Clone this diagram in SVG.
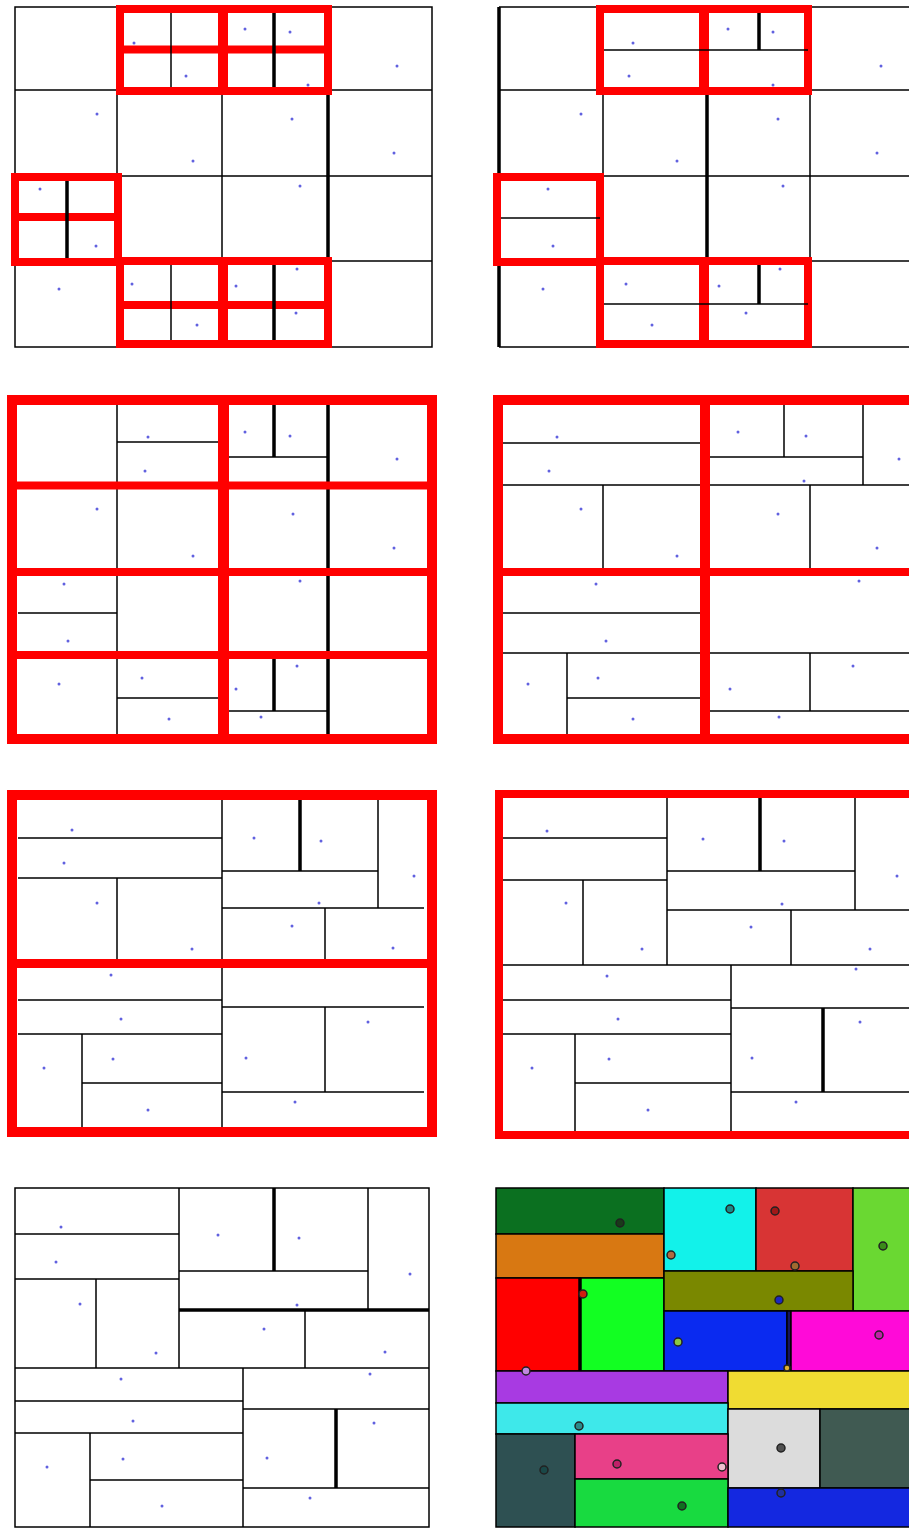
<svg xmlns="http://www.w3.org/2000/svg" width="909" height="1528" viewBox="0 0 909 1528">
<style>
.b{stroke:#000;stroke-width:1.5;fill:none}
.t{stroke:#000;stroke-width:3.5;fill:none}
.r{stroke:#f00;fill:none}
.d{fill:#3a3ad8;opacity:0.8}
.c rect{stroke:#000;stroke-width:1.5}
.m{stroke:#222;stroke-width:1.5}
</style>
<rect width="909" height="1528" fill="#fff"/>

<!-- Panel 1 -->
<g id="panel1">
<rect class="b" x="15" y="7" width="417" height="340"/>
<path class="b" d="M117 7V347M222 90V261M15 90H432M15 176H432M15 261H432"/>
<path class="t" d="M328 90V261"/>
<rect class="r" stroke-width="8" x="120" y="9" width="208" height="82"/>
<path class="r" stroke-width="10" d="M223 5V95"/>
<path class="r" stroke-width="8" d="M116 49.5H332"/>
<path class="b" d="M171 13V87"/>
<path class="t" d="M274 13V87"/>
<rect class="r" stroke-width="8" x="15" y="177" width="103" height="85"/>
<path class="r" stroke-width="8" d="M11 217H122"/>
<path class="t" d="M67 181V258"/>
<rect class="r" stroke-width="8" x="120" y="261" width="208" height="83"/>
<path class="r" stroke-width="10" d="M223 257V348"/>
<path class="r" stroke-width="8" d="M116 305H332"/>
<path class="b" d="M171 265V340"/>
<path class="t" d="M274 265V340"/>
<g class="d">
<circle cx="134" cy="43" r="1.5"/><circle cx="245" cy="29" r="1.5"/><circle cx="290" cy="32" r="1.5"/><circle cx="186" cy="76" r="1.5"/><circle cx="308" cy="85" r="1.5"/><circle cx="397" cy="66" r="1.5"/><circle cx="97" cy="114" r="1.5"/><circle cx="292" cy="119" r="1.5"/><circle cx="193" cy="161" r="1.5"/><circle cx="394" cy="153" r="1.5"/><circle cx="40" cy="189" r="1.5"/><circle cx="300" cy="186" r="1.5"/><circle cx="96" cy="246" r="1.5"/><circle cx="59" cy="289" r="1.5"/><circle cx="132" cy="284" r="1.5"/><circle cx="236" cy="286" r="1.5"/><circle cx="297" cy="269" r="1.5"/><circle cx="197" cy="325" r="1.5"/><circle cx="296" cy="313" r="1.5"/>
</g>
</g>

<!-- Panel 2 -->
<g id="panel2">
<path class="b" d="M499 7H909M499 347H909M499 90H909M499 176H909M499 261H909M603 90V261M810 90V261"/>
<path class="t" d="M499 7V347M707 90V261"/>
<rect class="r" stroke-width="8" x="600" y="9" width="208" height="82"/>
<path class="r" stroke-width="10" d="M704 5V95"/>
<path class="b" d="M604 50H808"/>
<path class="t" d="M759 13V50"/>
<rect class="r" stroke-width="8" x="497" y="177" width="103" height="85"/>
<path class="b" d="M501 218H600"/>
<rect class="r" stroke-width="8" x="600" y="261" width="208" height="83"/>
<path class="r" stroke-width="10" d="M704 257V348"/>
<path class="b" d="M604 304H808"/>
<path class="t" d="M759 265V304"/>
<g class="d">
<circle cx="633" cy="43" r="1.5"/><circle cx="728" cy="29" r="1.5"/><circle cx="773" cy="32" r="1.5"/><circle cx="629" cy="76" r="1.5"/><circle cx="773" cy="85" r="1.5"/><circle cx="881" cy="66" r="1.5"/><circle cx="581" cy="114" r="1.5"/><circle cx="778" cy="119" r="1.5"/><circle cx="677" cy="161" r="1.5"/><circle cx="877" cy="153" r="1.5"/><circle cx="548" cy="189" r="1.5"/><circle cx="783" cy="186" r="1.5"/><circle cx="553" cy="246" r="1.5"/><circle cx="543" cy="289" r="1.5"/><circle cx="626" cy="284" r="1.5"/><circle cx="719" cy="286" r="1.5"/><circle cx="780" cy="269" r="1.5"/><circle cx="652" cy="325" r="1.5"/><circle cx="746" cy="313" r="1.5"/>
</g>
</g>

<!-- Panel 3 -->
<g id="panel3">
<path class="b" d="M117 404V738M117 442H219M229 457H328M18 613H117M117 698H219M229 711H328"/>
<path class="t" d="M328 404V738M274 404V457M274 659V711"/>
<rect class="r" stroke-width="10" x="12" y="400" width="420" height="339"/>
<path class="r" stroke-width="11" d="M223.5 400V739"/>
<path class="r" stroke-width="8" d="M12 485.5H432M12 572H432M12 655H432"/>
<g class="d">
<circle cx="148" cy="437" r="1.5"/><circle cx="145" cy="471" r="1.5"/><circle cx="245" cy="432" r="1.5"/><circle cx="290" cy="436" r="1.5"/><circle cx="397" cy="459" r="1.5"/><circle cx="97" cy="509" r="1.5"/><circle cx="293" cy="514" r="1.5"/><circle cx="193" cy="556" r="1.5"/><circle cx="394" cy="548" r="1.5"/><circle cx="64" cy="584" r="1.5"/><circle cx="300" cy="581" r="1.5"/><circle cx="68" cy="641" r="1.5"/><circle cx="59" cy="684" r="1.5"/><circle cx="142" cy="678" r="1.5"/><circle cx="236" cy="689" r="1.5"/><circle cx="297" cy="666" r="1.5"/><circle cx="169" cy="719" r="1.5"/><circle cx="261" cy="717" r="1.5"/>
</g>
</g>

<!-- Panel 4 -->
<g id="panel4">
<path class="b" d="M503 443H700M503 485H700M603 485V568M784 404V457M710 457H863M863 404V485M710 485H909M810 485V568M503 613H700M503 653H700M567 653V738M567 698H700M710 653H909M810 653V711M710 711H909"/>
<rect class="r" stroke-width="10" x="498" y="400" width="440" height="339"/>
<path class="r" stroke-width="10" d="M705 400V739"/>
<path class="r" stroke-width="8" d="M498 572H909"/>
<g class="d">
<circle cx="557" cy="437" r="1.5"/><circle cx="549" cy="471" r="1.5"/><circle cx="581" cy="509" r="1.5"/><circle cx="677" cy="556" r="1.5"/><circle cx="738" cy="432" r="1.5"/><circle cx="806" cy="436" r="1.5"/><circle cx="899" cy="459" r="1.5"/><circle cx="804" cy="481" r="1.5"/><circle cx="778" cy="514" r="1.5"/><circle cx="877" cy="548" r="1.5"/><circle cx="596" cy="584" r="1.5"/><circle cx="859" cy="581" r="1.5"/><circle cx="606" cy="641" r="1.5"/><circle cx="528" cy="684" r="1.5"/><circle cx="598" cy="678" r="1.5"/><circle cx="633" cy="719" r="1.5"/><circle cx="730" cy="689" r="1.5"/><circle cx="853" cy="666" r="1.5"/><circle cx="779" cy="717" r="1.5"/>
</g>
</g>

<!-- Panel 5 -->
<g id="panel5">
<path class="b" d="M222 798V1129M18 838H222M18 878H222M117 878V959M222 871H378M378 798V908M222 908H424M325 908V959M18 1000H222M18 1034H222M82 1034V1129M82 1083H222M222 1007H424M325 1007V1092M222 1092H424"/>
<path class="t" d="M300 798V871"/>
<rect class="r" stroke-width="10" x="12" y="795" width="420" height="337"/>
<path class="r" stroke-width="9" d="M12 963.5H432"/>
<g class="d">
<circle cx="72" cy="830" r="1.5"/><circle cx="64" cy="863" r="1.5"/><circle cx="97" cy="903" r="1.5"/><circle cx="192" cy="949" r="1.5"/><circle cx="254" cy="838" r="1.5"/><circle cx="321" cy="841" r="1.5"/><circle cx="414" cy="876" r="1.5"/><circle cx="319" cy="903" r="1.5"/><circle cx="292" cy="926" r="1.5"/><circle cx="393" cy="948" r="1.5"/><circle cx="111" cy="975" r="1.5"/><circle cx="121" cy="1019" r="1.5"/><circle cx="44" cy="1068" r="1.5"/><circle cx="113" cy="1059" r="1.5"/><circle cx="148" cy="1110" r="1.5"/><circle cx="246" cy="1058" r="1.5"/><circle cx="368" cy="1022" r="1.5"/><circle cx="295" cy="1102" r="1.5"/>
</g>
</g>

<!-- Panel 6 -->
<g id="panel6">
<path class="b" d="M503 838H667M503 880H667M583 880V965M667 798V965M667 871H855M855 798V910M667 910H909M791 910V965M503 965H909M731 965V1133M503 1000H731M503 1034H731M575 1034V1133M575 1083H731M731 1008H909M731 1092H909"/>
<path class="t" d="M760 798V871M823 1008V1092"/>
<rect class="r" stroke-width="8" x="499" y="794" width="450" height="341"/>
<g class="d">
<circle cx="547" cy="831" r="1.5"/><circle cx="703" cy="839" r="1.5"/><circle cx="784" cy="841" r="1.5"/><circle cx="897" cy="876" r="1.5"/><circle cx="782" cy="904" r="1.5"/><circle cx="566" cy="903" r="1.5"/><circle cx="642" cy="949" r="1.5"/><circle cx="751" cy="927" r="1.5"/><circle cx="870" cy="949" r="1.5"/><circle cx="607" cy="976" r="1.5"/><circle cx="856" cy="969" r="1.5"/><circle cx="618" cy="1019" r="1.5"/><circle cx="532" cy="1068" r="1.5"/><circle cx="609" cy="1059" r="1.5"/><circle cx="648" cy="1110" r="1.5"/><circle cx="752" cy="1058" r="1.5"/><circle cx="860" cy="1022" r="1.5"/><circle cx="796" cy="1102" r="1.5"/>
</g>
</g>

<!-- Panel 7 -->
<g id="panel7">
<rect class="b" x="15" y="1188" width="414" height="339"/>
<path class="b" d="M179 1188V1368M15 1234H179M15 1279H179M96 1279V1368M179 1271H368M368 1188V1310M305 1310V1368M15 1368H429M243 1368V1527M15 1401H243M15 1433H243M90 1433V1527M90 1480H243M243 1409H429M243 1488H429"/>
<path class="t" d="M274 1188V1271M179 1310H429M336 1409V1488"/>
<g class="d">
<circle cx="61" cy="1227" r="1.5"/><circle cx="56" cy="1262" r="1.5"/><circle cx="80" cy="1304" r="1.5"/><circle cx="156" cy="1353" r="1.5"/><circle cx="218" cy="1235" r="1.5"/><circle cx="299" cy="1238" r="1.5"/><circle cx="410" cy="1274" r="1.5"/><circle cx="297" cy="1305" r="1.5"/><circle cx="264" cy="1329" r="1.5"/><circle cx="385" cy="1352" r="1.5"/><circle cx="121" cy="1379" r="1.5"/><circle cx="370" cy="1374" r="1.5"/><circle cx="133" cy="1421" r="1.5"/><circle cx="47" cy="1467" r="1.5"/><circle cx="123" cy="1459" r="1.5"/><circle cx="162" cy="1506" r="1.5"/><circle cx="267" cy="1458" r="1.5"/><circle cx="374" cy="1423" r="1.5"/><circle cx="310" cy="1498" r="1.5"/>
</g>
</g>

<!-- Panel 8 -->
<g id="panel8">
<g class="c">
<rect x="496" y="1188" width="168" height="46" fill="#0b7020"/>
<rect x="496" y="1234" width="168" height="44" fill="#d87812"/>
<rect x="496" y="1278" width="84" height="93" fill="#ff0000"/>
<rect x="580" y="1278" width="84" height="93" fill="#12ff22"/>
<rect x="664" y="1188" width="92" height="83" fill="#12f2ea"/>
<rect x="756" y="1188" width="97" height="83" fill="#d83434"/>
<rect x="853" y="1188" width="70" height="123" fill="#6ad832"/>
<rect x="664" y="1271" width="189" height="40" fill="#7a8800"/>
<rect x="664" y="1311" width="123" height="60" fill="#0a2af0"/>
<rect x="787" y="1311" width="4" height="60" fill="#141460" stroke="none"/>
<rect x="791" y="1311" width="130" height="60" fill="#ff0ad8"/>
<rect x="496" y="1371" width="232" height="32" fill="#a83ae2"/>
<rect x="728" y="1371" width="193" height="38" fill="#f0dc32"/>
<rect x="496" y="1403" width="232" height="31" fill="#3ee8ea"/>
<rect x="728" y="1409" width="92" height="79" fill="#dcdcdc"/>
<rect x="820" y="1409" width="101" height="79" fill="#405a52"/>
<rect x="496" y="1434" width="79" height="93" fill="#2e5052"/>
<rect x="575" y="1434" width="153" height="45" fill="#e84088"/>
<rect x="575" y="1479" width="153" height="48" fill="#18da40"/>
<rect x="728" y="1488" width="193" height="39" fill="#1428e0"/>
</g>
<path class="t" d="M580 1278V1371"/>
<g class="m">
<circle cx="620" cy="1223" r="4" fill="#1a3a1a"/>
<circle cx="730" cy="1209" r="4" fill="#1a8a88"/>
<circle cx="775" cy="1211" r="4" fill="#a01818"/>
<circle cx="883" cy="1246" r="4" fill="#3a8a1a"/>
<circle cx="671" cy="1255" r="4" fill="#b06a40"/>
<circle cx="795" cy="1266" r="4" fill="#a06a30"/>
<circle cx="583" cy="1294" r="4" fill="#d02010"/>
<circle cx="779" cy="1300" r="4" fill="#1a28c0"/>
<circle cx="678" cy="1342" r="4" fill="#8ac840"/>
<circle cx="879" cy="1335" r="4" fill="#c020a8"/>
<circle cx="526" cy="1371" r="4" fill="#c088e0"/>
<circle cx="787" cy="1368" r="3" fill="#e0b030"/>
<circle cx="579" cy="1426" r="4" fill="#2a8a8a"/>
<circle cx="544" cy="1470" r="4" fill="#1a4848"/>
<circle cx="617" cy="1464" r="4" fill="#c02068"/>
<circle cx="722" cy="1467" r="4" fill="#f0c0d0"/>
<circle cx="781" cy="1448" r="4" fill="#505050"/>
<circle cx="682" cy="1506" r="4" fill="#107020"/>
<circle cx="781" cy="1493" r="4" fill="#2030a0"/>
</g>
</g>
</svg>
